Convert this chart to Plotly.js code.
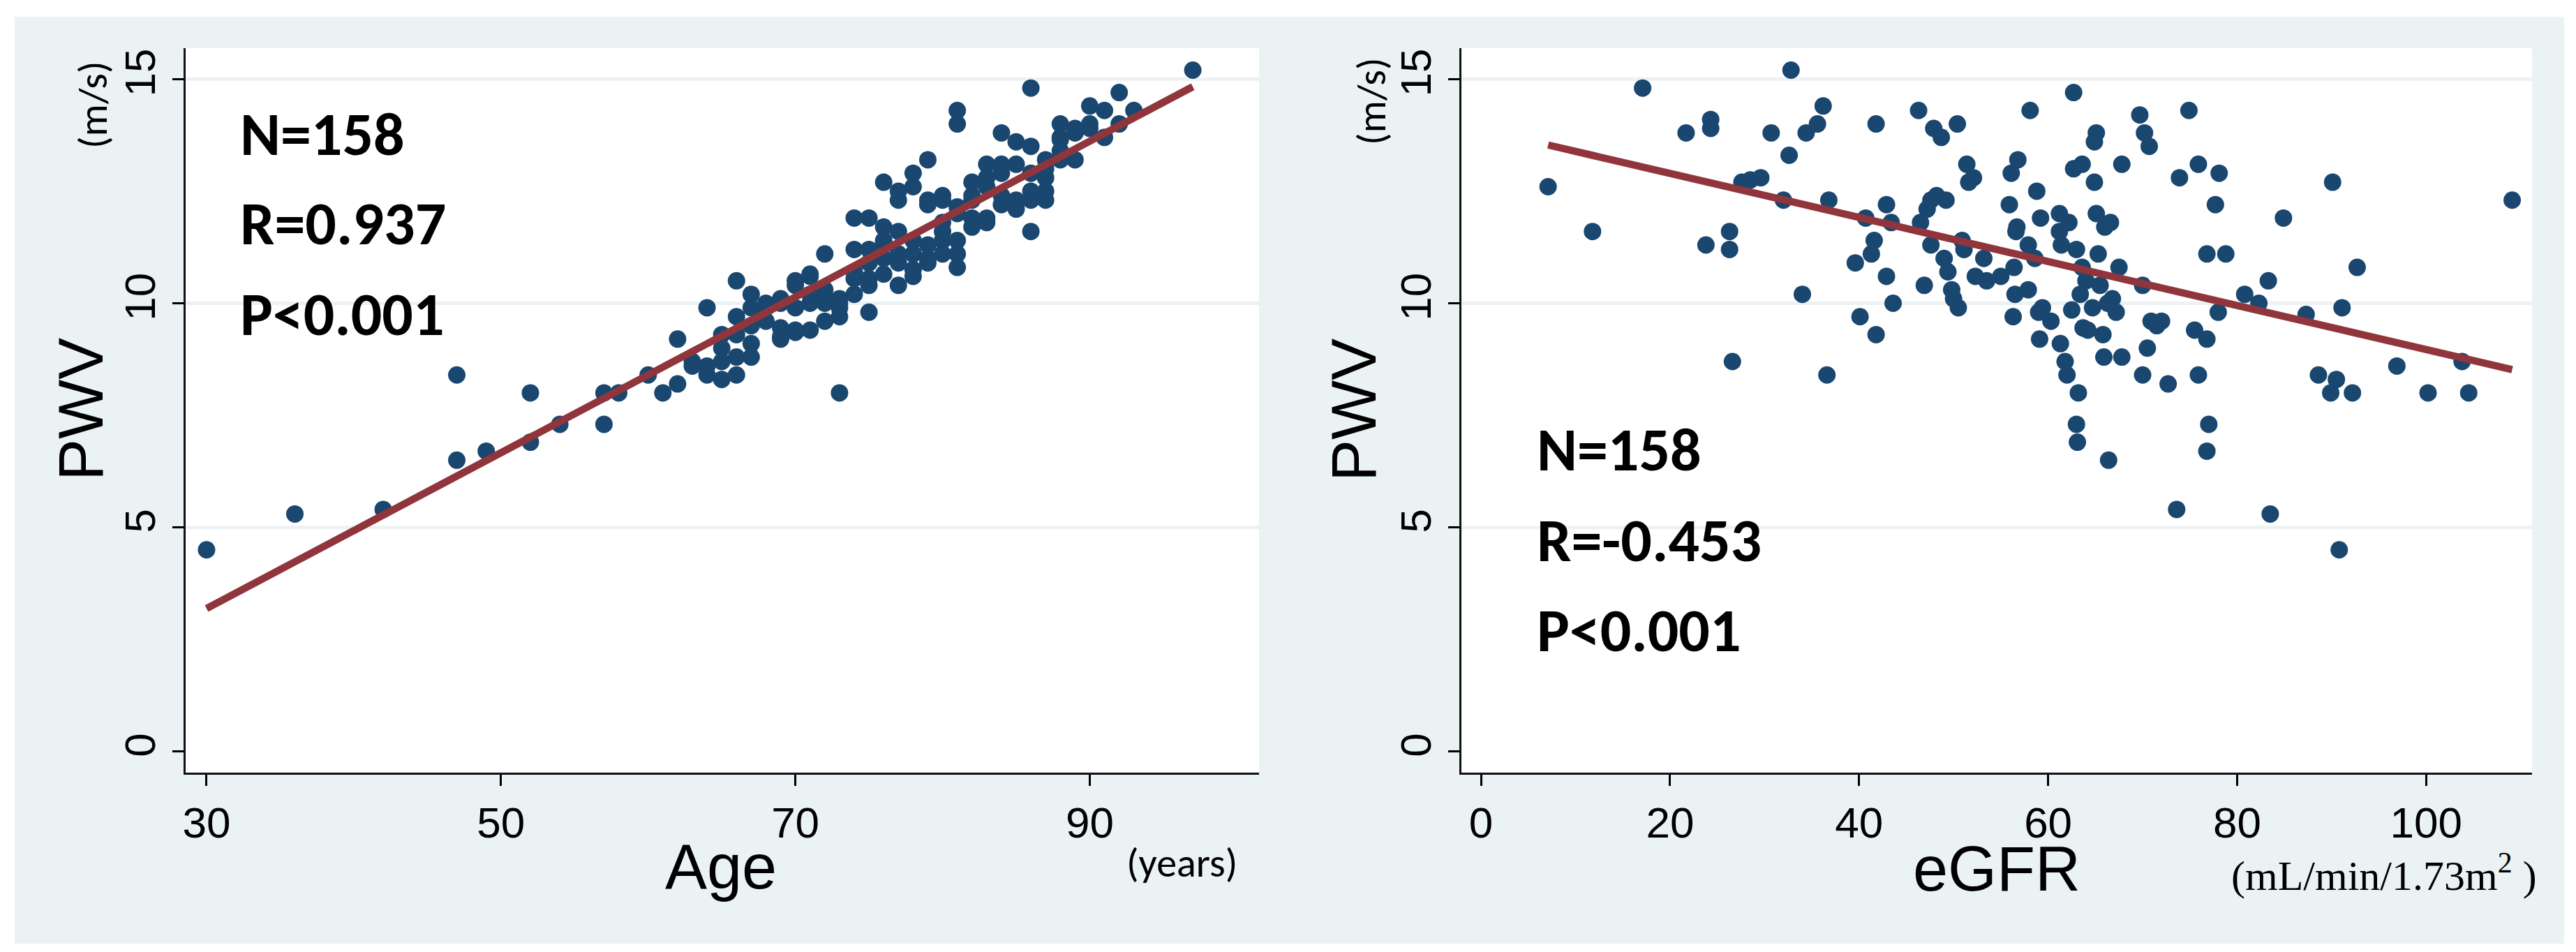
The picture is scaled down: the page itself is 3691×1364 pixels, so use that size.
<!DOCTYPE html>
<html>
<head>
<meta charset="utf-8">
<script src="https://cdn.plot.ly/plotly-3.0.1.min.js"></script>
<style>html,body{margin:0;padding:0;background:#fff;}#chart{width:3691px;height:1364px;}</style>
</head>
<body>
<div id="chart"></div>
<script>
// ---- Left panel: Age vs PWV ----
const ageX = [30,36,42,47,47,49,52,52,54,57,57,58,60,61,62,62,63,63,64,64,64,65,65,65,65,66,66,66,66,67,67,67,67,67,68,68,69,69,69,69,70,70,70,70,71,71,71,71,72,72,72,72,73,73,73,73,74,74,74,74,75,75,75,75,75,76,76,76,76,76,77,77,77,77,77,77,78,78,78,78,78,78,79,79,79,79,79,80,80,80,80,80,81,81,81,81,81,81,81,82,82,82,82,83,83,83,83,83,84,84,84,84,85,85,85,85,86,86,86,86,86,86,87,87,87,87,88,88,88,88,89,89,90,90,91,91,92,92,93,97,70,71,72,69,73,74,66,68,75,76,79,80,82,84,87,88,90,89];
const agePWV = [4.5,5.3,5.4,8.4,6.5,6.7,8.0,6.9,7.3,8.0,7.3,8.0,8.4,8.0,9.2,8.2,8.7,8.6,9.9,8.4,8.6,9.3,9.0,8.7,8.3,8.4,8.8,9.7,10.5,10.2,9.9,9.5,9.1,8.8,10.0,9.9,10.0,9.45,9.25,10.1,10.4,9.4,9.9,10.5,10.6,10.0,9.4,10.2,11.1,10.1,9.6,10.0,10.0,8.0,9.7,10.1,11.2,10.55,11.9,10.7,9.8,11.9,11.2,10.4,10.55,11.7,11.35,11.0,10.65,12.7,11.6,11.1,10.9,10.4,12.5,12.3,10.6,11.1,12.9,12.6,10.75,11.4,10.9,11.3,12.2,13.2,11.0,11.4,11.1,11.8,12.3,11.6,11.4,11.1,10.8,12.15,14.3,14.0,12.0,12.3,11.7,12.4,11.9,11.8,13.1,12.8,12.6,11.9,12.2,13.8,12.9,12.4,12.1,13.1,13.6,12.3,12.3,12.9,13.5,11.6,14.8,12.5,12.3,12.8,13.2,12.5,14.0,13.7,13.2,13.4,13.9,13.8,14.4,13.9,14.3,13.7,14.0,14.7,14.3,15.2,9.35,10.65,10.3,9.2,9.9,10.2,9.3,9.6,10.9,11.4,12.3,12.4,12.7,13.1,13.0,13.65,14.0,13.2];
const fitAgeX = [30, 97];
const fitAgeY = [3.19, 14.83];

// ---- Right panel: eGFR vs PWV ----
const egfrX = [7.1,11.8,17.1,21.7,24.3,24.3,23.8,26.3,26.3,26.6,27.6,28.5,29.6,30.7,32.0,32.6,32.8,34.0,34.4,35.6,36.2,36.6,36.8,39.6,40.1,40.7,41.3,41.6,41.8,41.8,42.9,42.9,43.6,43.4,46.3,46.9,46.5,47.2,47.6,47.9,48.7,47.6,49.0,49.2,49.4,49.8,50.0,50.4,50.5,50.9,51.1,51.4,51.6,52.1,52.3,53.2,53.5,55.9,56.1,56.3,56.4,56.6,56.7,56.8,56.5,58.1,57.9,57.9,58.8,59.0,59.2,59.1,59.4,61.2,61.3,61.2,61.4,61.8,62.0,62.2,62.5,62.7,62.7,63.0,63.2,63.0,63.1,63.4,63.6,63.6,63.7,64.2,64.7,64.9,65.1,65.1,64.9,65.3,65.5,65.8,65.9,66.0,66.4,66.6,66.8,67.2,67.5,67.8,67.8,69.7,70.0,70.0,70.2,70.5,70.7,70.9,72.0,72.7,73.6,73.9,74.9,75.5,75.9,75.9,76.8,76.8,77.0,76.8,77.7,78.0,78.1,78.8,80.8,82.3,83.3,83.5,84.9,87.3,88.6,89.9,90.1,90.5,90.8,91.1,92.2,92.7,96.9,100.2,103.8,104.5,109.1,48.2,55.0,60.3,64.0,66.3,71.5,58.6];
const egfrPWV = [12.6,11.6,14.8,13.8,14.1,13.9,11.3,11.6,11.2,8.7,12.7,12.75,12.8,13.8,12.3,13.3,15.2,10.2,13.8,14.0,14.4,8.4,12.3,10.9,9.7,11.9,11.1,11.4,14.0,9.3,12.2,10.6,10.0,11.8,14.3,10.4,11.8,12.1,12.3,13.9,13.7,11.3,11.0,12.3,10.7,10.3,10.1,14.0,9.9,11.4,11.2,13.1,12.7,12.8,10.6,11.0,10.5,12.2,12.9,9.7,10.8,11.6,11.7,13.2,10.2,14.3,11.3,10.3,12.5,9.8,11.9,9.2,9.9,12.0,9.1,11.6,11.3,8.7,8.4,11.8,9.85,14.7,13.0,11.2,8.0,7.3,6.9,10.2,13.1,10.8,9.45,9.4,9.9,12.7,12.0,13.8,13.6,11.1,10.4,9.3,8.8,11.7,6.5,11.8,10.1,9.8,10.8,13.1,8.8,14.2,8.4,10.4,13.8,9.0,13.5,9.6,9.6,8.2,5.4,12.8,14.3,9.4,8.4,13.1,11.1,9.2,7.3,6.7,12.2,9.8,12.9,11.1,10.2,10.0,10.5,5.3,11.9,9.75,8.4,8.0,12.7,8.3,4.5,9.9,8.0,10.8,8.6,8.0,8.7,8.0,12.3,12.4,10.6,9.6,10.5,10.0,9.5,11.0];
const fitEgfrX = [7.1, 109.1];
const fitEgfrY = [13.53, 8.52];

// ---- Ticks ----
const ageTicks = [30, 50, 70, 90];
const egfrTicks = [0, 20, 40, 60, 80, 100];
const pwvTicks = [0, 5, 10, 15];
const gridVals = [5, 10, 15];

// ---- Layout helpers (pixels -> paper) ----
const W = 3691, H = 1364;
const px = v => v / W;
const py = v => 1 - v / H;

const NAVY = '#1a476f', MAROON = '#90353b', REGION = '#eaf2f3';
const tickFont = {family: 'Liberation Sans, Arial, sans-serif', size: 62, color: '#000'};

function xAxis(domain, range, ticks) {
  return {domain, range, tickmode: 'array', tickvals: ticks, ticktext: ticks.map(String),
    showgrid: false, zeroline: false, showline: true, linecolor: '#111', linewidth: 3,
    ticks: 'outside', ticklen: 16, tickwidth: 3, tickcolor: '#000', tickfont: tickFont,
    fixedrange: true};
}
function yAxis(range, anchor) {
  return {domain: [py(1107), py(69)], range, anchor, tickmode: 'array', tickvals: pwvTicks,
    ticktext: pwvTicks.map(String), tickangle: -90, showgrid: false, zeroline: false,
    showline: true, linecolor: '#111', linewidth: 3, ticks: 'outside', ticklen: 16,
    tickwidth: 3, tickcolor: '#000', tickfont: tickFont, fixedrange: true};
}

const traces = [
  {x: ageX, y: agePWV, xaxis: 'x', yaxis: 'y', type: 'scatter', mode: 'markers',
   marker: {color: NAVY, size: 25, line: {width: 0}}, hoverinfo: 'skip'},
  {x: fitAgeX, y: fitAgeY, xaxis: 'x', yaxis: 'y', type: 'scatter', mode: 'lines',
   line: {color: MAROON, width: 10.5}, hoverinfo: 'skip'},
  {x: egfrX, y: egfrPWV, xaxis: 'x2', yaxis: 'y2', type: 'scatter', mode: 'markers',
   marker: {color: NAVY, size: 25, line: {width: 0}}, hoverinfo: 'skip'},
  {x: fitEgfrX, y: fitEgfrY, xaxis: 'x2', yaxis: 'y2', type: 'scatter', mode: 'lines',
   line: {color: MAROON, width: 10.5}, hoverinfo: 'skip'}
];

const shapes = [
  {type: 'rect', xref: 'paper', yref: 'paper', x0: px(21), x1: px(3674), y0: py(1352), y1: py(24),
   fillcolor: REGION, line: {width: 0}, layer: 'below'},
  {type: 'rect', xref: 'paper', yref: 'paper', x0: px(266), x1: px(1804), y0: py(1107), y1: py(69),
   fillcolor: '#ffffff', line: {width: 0}, layer: 'below'},
  {type: 'rect', xref: 'paper', yref: 'paper', x0: px(2094), x1: px(3628), y0: py(1107), y1: py(69),
   fillcolor: '#ffffff', line: {width: 0}, layer: 'below'}
];
gridVals.forEach(v => {
  shapes.push({type: 'line', xref: 'x domain', yref: 'y', x0: 0, x1: 1, y0: v, y1: v,
    line: {color: REGION, width: 5}, layer: 'below'});
  shapes.push({type: 'line', xref: 'x2 domain', yref: 'y2', x0: 0, x1: 1, y0: v, y1: v,
    line: {color: REGION, width: 5}, layer: 'below'});
});

const statFont = {family: 'Carlito, Lato, sans-serif', size: 88, color: '#000', weight: 'bold'};
const titleFont = {family: 'Liberation Sans, Arial, sans-serif', size: 90, color: '#000'};
const unitFont = {family: 'Carlito, Lato, sans-serif', size: 58, color: '#000'};
function ann(text, x, y, font, opts) {
  return Object.assign({text, x: px(x), y: py(y), xref: 'paper', yref: 'paper', showarrow: false,
    xanchor: 'center', yanchor: 'middle', font}, opts || {});
}

const annotations = [
  ann('<b>N=158</b>', 342, 192, statFont, {xanchor: 'left'}),
  ann('<b>R=0.937</b>', 342, 320, statFont, {xanchor: 'left'}),
  ann('<b>P&lt;0.001</b>', 342, 450, statFont, {xanchor: 'left'}),
  ann('<b>N=158</b>', 2200, 644, statFont, {xanchor: 'left'}),
  ann('<b>R=-0.453</b>', 2200, 774, statFont, {xanchor: 'left'}),
  ann('<b>P&lt;0.001</b>', 2200, 903, statFont, {xanchor: 'left'}),
  ann('Age', 1033, 1242, titleFont),
  ann('eGFR', 2861, 1245, titleFont),
  ann('PWV', 116, 587, titleFont, {textangle: -90}),
  ann('PWV', 1940, 587, titleFont, {textangle: -90}),
  ann('(years)', 1693, 1236, unitFont),
  ann('(m/s)', 133, 150, unitFont, {textangle: -90}),
  ann('(m/s)', 1965, 145, unitFont, {textangle: -90}),
  ann('(mL/min/1.73m<sup>2</sup> )', 3416, 1250, {family: 'Liberation Serif, Times New Roman, serif', size: 60, color: '#000'})
];

const layout = {
  width: W, height: H, margin: {l: 0, r: 0, t: 0, b: 0, pad: 0},
  paper_bgcolor: '#ffffff', plot_bgcolor: 'rgba(0,0,0,0)', showlegend: false,
  xaxis: Object.assign(xAxis([px(266), px(1804)], [28.58, 101.5], ageTicks), {anchor: 'y'}),
  yaxis: yAxis([-0.47, 15.69], 'x'),
  xaxis2: Object.assign(xAxis([px(2094), px(3628)], [-2.07, 111.2], egfrTicks), {anchor: 'y2'}),
  yaxis2: yAxis([-0.47, 15.69], 'x2'),
  shapes, annotations
};

Plotly.newPlot('chart', traces, layout, {displayModeBar: false, staticPlot: true});
</script>
</body>
</html>
